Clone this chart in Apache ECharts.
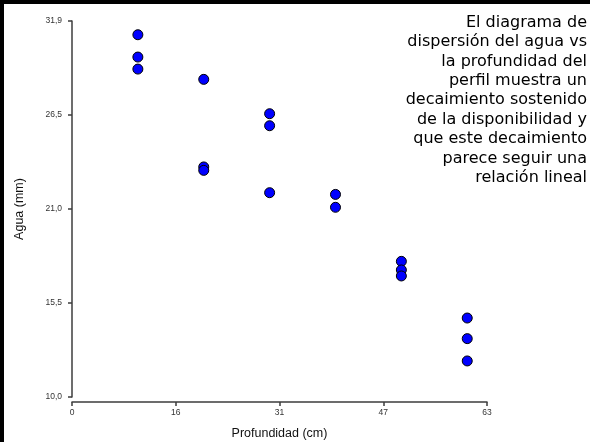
<!DOCTYPE html>
<html>
<head>
<meta charset="utf-8">
<script src="https://cdn.jsdelivr.net/npm/echarts@6/dist/echarts.min.js"></script>
<style>
  html, body { margin: 0; padding: 0; background: #fff; }
  #chart { width: 590px; height: 442px; }
</style>
</head>
<body>
<div id="chart"></div>
<script>
// Profile depth (cm) of each sample
const depth = [10, 10, 10, 20, 20, 20, 30, 30, 30, 40, 40, 50, 50, 50, 60, 60, 60];
// Stored water (mm) of each sample
const water = [31.1, 29.8, 29.1, 28.5, 23.4, 23.2, 26.5, 25.8, 21.9, 21.8, 21.05, 17.9, 17.4, 17.05, 14.6, 13.4, 12.1];
// Axis ranges: five evenly spaced ticks on each axis
const xRange = [0, 63];
const yRange = [10, 31.9];
// Printed tick labels (rounded values of the evenly spaced ticks)
const xTickLabels = ['0', '16', '31', '47', '63'];
const yTickLabels = ['10,0', '15,5', '21,0', '26,5', '31,9'];
// Note shown at the upper right
const noteLines = [
  'El diagrama de',
  'dispersión del agua vs',
  'la profundidad del',
  'perfil muestra un',
  'decaimiento sostenido',
  'de la disponibilidad y',
  'que este decaimiento',
  'parece seguir una',
  'relación lineal'
];

const chart = echarts.init(document.getElementById('chart'), null, { renderer: 'canvas' });

const axisColor = '#3c3c3c';
const labelFont = { fontFamily: 'Liberation Sans, Arial, sans-serif', fontSize: 8.5, color: '#333' };
const xStep = (xRange[1] - xRange[0]) / (xTickLabels.length - 1);
const yStep = (yRange[1] - yRange[0]) / (yTickLabels.length - 1);

chart.setOption({
  animation: false,
  backgroundColor: '#fff',
  grid: {
    left: 72, right: 103, top: 21, bottom: 45,
    containLabel: false,
    outerBoundsMode: 'none'
  },
  xAxis: {
    type: 'value',
    min: xRange[0],
    max: xRange[1],
    interval: xStep,
    offset: 5,
    name: 'Profundidad (cm)',
    nameLocation: 'middle',
    nameGap: 25,
    nameTextStyle: { fontFamily: 'Liberation Sans, Arial, sans-serif', fontSize: 12.5, color: '#111' },
    axisLine: { show: true, lineStyle: { color: axisColor, width: 1.5 } },
    axisTick: { show: true, length: 4, lineStyle: { color: axisColor, width: 1.5 } },
    axisLabel: Object.assign({
      margin: 6,
      formatter: v => xTickLabels[Math.round((v - xRange[0]) / xStep)]
    }, labelFont),
    splitLine: { show: false }
  },
  yAxis: {
    type: 'value',
    min: yRange[0],
    max: yRange[1],
    interval: yStep,
    offset: 4,
    name: 'Agua (mm)',
    nameLocation: 'middle',
    nameGap: 42,
    nameTextStyle: { fontFamily: 'Liberation Sans, Arial, sans-serif', fontSize: 12.5, color: '#111' },
    axisLine: { show: true, lineStyle: { color: axisColor, width: 1.5 } },
    axisTick: { show: true, length: 4, lineStyle: { color: axisColor, width: 1.5 } },
    axisLabel: Object.assign({
      margin: 6,
      formatter: v => yTickLabels[Math.round((v - yRange[0]) / yStep)]
    }, labelFont),
    splitLine: { show: false }
  },
  series: [{
    type: 'scatter',
    data: depth.map((d, i) => [d, water[i]]),
    symbol: 'circle',
    symbolSize: 10,
    itemStyle: { color: '#0000ff', borderColor: '#000', borderWidth: 1, opacity: 1 }
  }],
  graphic: [
    { type: 'rect', shape: { x: 0, y: 0, width: 590, height: 4 }, style: { fill: '#000' }, silent: true },
    { type: 'rect', shape: { x: 0, y: 0, width: 4, height: 442 }, style: { fill: '#000' }, silent: true },
    {
      type: 'text',
      right: 3,
      top: 13,
      style: {
        text: noteLines.join('\n'),
        font: '16px "DejaVu Sans", sans-serif',
        lineHeight: 19.4,
        textAlign: 'right',
        fill: '#000'
      }
    }
  ]
});
</script>
</body>
</html>
